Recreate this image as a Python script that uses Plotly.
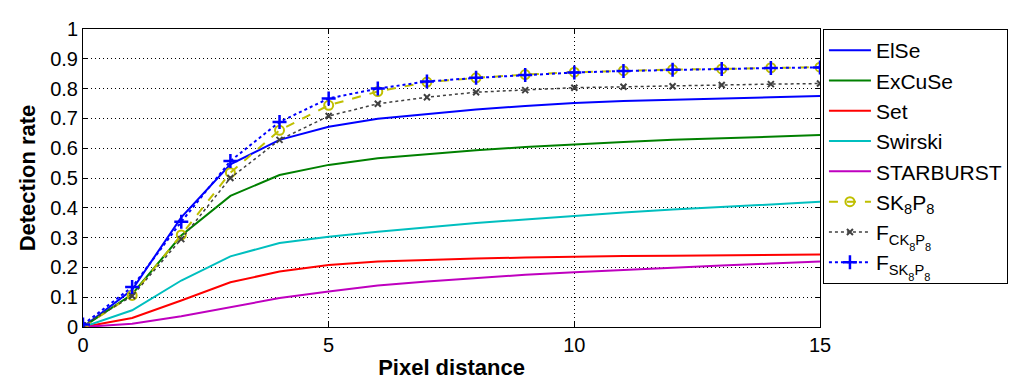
import plotly.graph_objects as go

# pixel distance (x) and detection rates per method
px_dist = list(range(0, 16))

else_rate = [0, 0.125, 0.368, 0.546, 0.628, 0.672, 0.699, 0.715, 0.730, 0.742, 0.752, 0.758, 0.763, 0.767, 0.771, 0.775]
excuse_rate = [0, 0.110, 0.307, 0.440, 0.510, 0.544, 0.566, 0.580, 0.593, 0.604, 0.613, 0.621, 0.628, 0.634, 0.639, 0.644]
set_rate = [0, 0.030, 0.089, 0.150, 0.186, 0.208, 0.220, 0.226, 0.230, 0.233, 0.236, 0.238, 0.239, 0.240, 0.241, 0.243]
swirski_rate = [0, 0.056, 0.156, 0.237, 0.282, 0.303, 0.320, 0.335, 0.349, 0.361, 0.373, 0.384, 0.394, 0.403, 0.412, 0.420]
starburst_rate = [0, 0.011, 0.036, 0.067, 0.097, 0.119, 0.139, 0.153, 0.165, 0.175, 0.184, 0.192, 0.199, 0.206, 0.213, 0.220]
sk8p8_rate = [0, 0.106, 0.309, 0.518, 0.660, 0.744, 0.790, 0.822, 0.836, 0.847, 0.855, 0.860, 0.864, 0.866, 0.870, 0.872]
fck8p8_rate = [0.005, 0.104, 0.295, 0.500, 0.628, 0.708, 0.749, 0.771, 0.788, 0.795, 0.803, 0.806, 0.808, 0.812, 0.815, 0.817]
fsk8p8_rate = [0.008, 0.134, 0.353, 0.557, 0.688, 0.767, 0.800, 0.824, 0.836, 0.846, 0.854, 0.859, 0.863, 0.866, 0.869, 0.871]

y_ticks = [round(i * 0.1, 1) for i in range(11)]
y_labels = ["0", "0.1", "0.2", "0.3", "0.4", "0.5", "0.6", "0.7", "0.8", "0.9", "1"]
x_ticks = [0, 5, 10, 15]

FONT = "Liberation Sans, Arial, sans-serif"

# second-level subscript (the "8" under K / P)
SUB2 = "<span style='font-size:11px;baseline-shift:-6px'>8</span>"

fig = go.Figure()

solid = [
    ("ElSe", else_rate, "#0000ff"),
    ("ExCuSe", excuse_rate, "#008000"),
    ("Set", set_rate, "#ff0000"),
    ("Swirski", swirski_rate, "#00bfbf"),
    ("STARBURST", starburst_rate, "#bf00bf"),
]
for name, ys, col in solid:
    fig.add_trace(go.Scatter(x=px_dist, y=ys, name=name, mode="lines",
                             line=dict(color=col, width=2)))

fig.add_trace(go.Scatter(
    x=px_dist, y=sk8p8_rate, name="SK<sub>8</sub>P<sub>8</sub>", mode="lines+markers",
    line=dict(color="#bfbf00", width=2, dash="dash"),
    marker=dict(symbol="circle-open", size=9, color="#bfbf00", line=dict(width=2))))
fig.add_trace(go.Scatter(
    x=px_dist, y=fck8p8_rate, name="F<sub>CK" + SUB2 + "P" + SUB2 + "</sub>", mode="lines+markers",
    line=dict(color="#404040", width=1.5, dash="dot"),
    marker=dict(symbol="x-thin-open", size=6, color="#404040", line=dict(width=2, color="#404040"))))
fig.add_trace(go.Scatter(
    x=px_dist, y=fsk8p8_rate, name="F<sub>SK" + SUB2 + "P" + SUB2 + "</sub>", mode="lines+markers",
    line=dict(color="#0000ff", width=2, dash="dot"),
    marker=dict(symbol="cross-thin-open", size=10, color="#0000ff", line=dict(width=2.5, color="#0000ff"))))

axis_common = dict(showline=True, linecolor="black", linewidth=1, mirror="allticks",
                   ticks="inside", ticklen=5, tickcolor="black", automargin=False,
                   showgrid=True, gridcolor="black", gridwidth=1, griddash="1px,3px",
                   zeroline=False, tickfont=dict(family=FONT, size=20, color="black"))

fig.update_xaxes(range=[0, 15], tickvals=x_ticks,
                 title=dict(text="<b>Pixel distance</b>", font=dict(family=FONT, size=22, color="black"), standoff=4),
                 **axis_common)
fig.update_yaxes(range=[0, 1], tickvals=y_ticks, ticktext=y_labels,
                 title=dict(text="<b>Detection rate</b>", font=dict(family=FONT, size=22, color="black"), standoff=8),
                 **axis_common)

# the page body adds an 8px offset, so margins are shifted to compensate
fig.update_layout(
    width=1032, height=384,
    margin=dict(l=75, r=220, t=21, b=65),
    paper_bgcolor="white", plot_bgcolor="white",
    font=dict(family=FONT, color="black"),
    legend=dict(x=1.004, y=1, xanchor="left", yanchor="top",
                bgcolor="white", bordercolor="black", borderwidth=1,
                font=dict(family=FONT, size=21, color="black"),
                itemwidth=42, tracegroupgap=0),
    showlegend=True,
)

fig.write_html("out.html")
